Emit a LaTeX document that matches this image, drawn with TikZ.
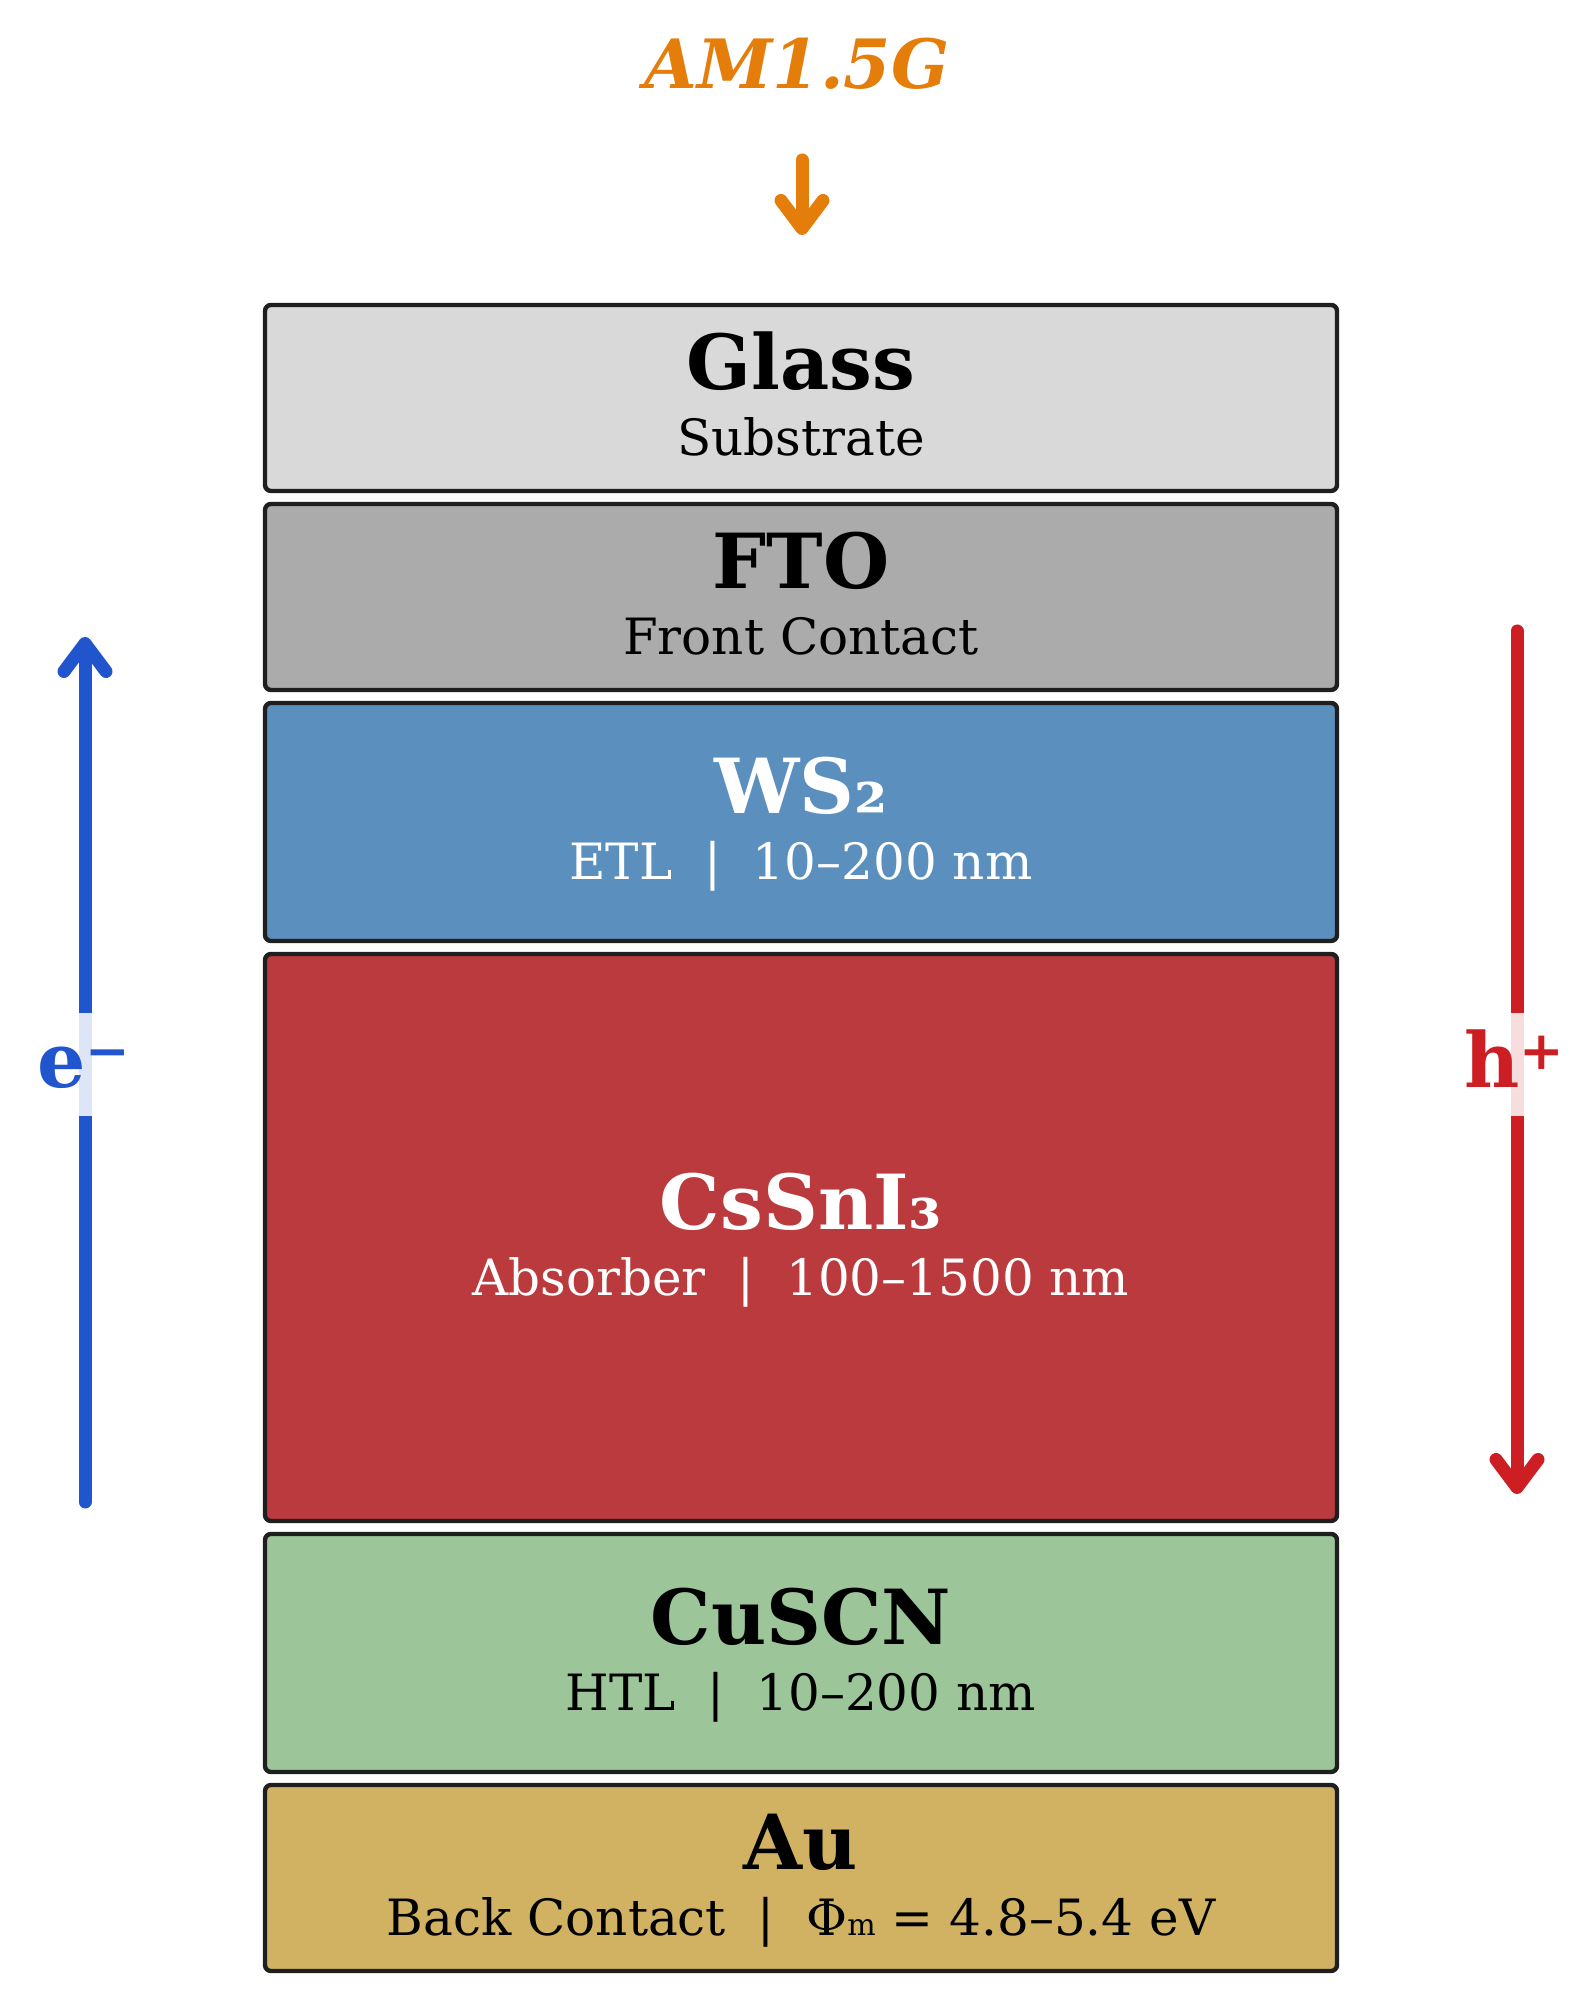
\documentclass[tikz,border=0pt]{standalone}
\usepackage{fontspec}
\setmainfont{DejaVu Serif}
\usetikzlibrary{arrows.meta, positioning}

\definecolor{glassgray}{HTML}{D9D9D9}
\definecolor{ftogray}{HTML}{ABABAB}
\definecolor{etlblue}{HTML}{5B8FBE}
\definecolor{absred}{HTML}{BA3A3D}
\definecolor{htlgreen}{HTML}{9CC59A}
\definecolor{augold}{HTML}{D0B262}
\definecolor{sunorange}{HTML}{E57D0A}
\definecolor{elecblue}{HTML}{2155CD}
\definecolor{holered}{HTML}{CC1E23}

\begin{document}
\begin{tikzpicture}[x=0.5pt, y=0.5pt,
  layer/.style={rectangle, rounded corners=3pt, minimum width=536pt, draw=black!88, line width=2.2pt},
  ttl/.style={anchor=base, font=\fontsize{38}{40}\selectfont\bfseries},
  sub/.style={anchor=base, font=\fontsize{25}{28}\selectfont},
  flow/.style={line width=6.5pt, line cap=round, -{Straight Barb[length=14pt, width=21pt, round]}},
  carrier/.style={anchor=base, font=\fontsize{38}{40}\selectfont\bfseries, fill=white, fill opacity=0.85, text opacity=1, inner xsep=2pt, inner ysep=3pt, text height=34.5pt, text depth=11pt}]

  \useasboundingbox (0,0) rectangle (1584,2016);

  % Light source
  \node (sun) [anchor=base, text=sunorange, font=\fontsize{34}{36}\selectfont\bfseries\itshape] at (797,1927) {AM1.5G};
  \coordinate (sunTail) at (802,1856);
  \coordinate (sunHead) at (802,1781);

  % Layers
  \node (glass) [layer, fill=glassgray, minimum height=93pt] at (801,1618) {};
  \node (fto) [layer, fill=ftogray, minimum height=93pt, below=4.3pt of glass] {};
  \node (etl) [layer, fill=etlblue, minimum height=119pt, below=4.3pt of fto] {};
  \node (absorber) [layer, fill=absred, minimum height=283.5pt, below=4.3pt of etl] {};
  \node (htl) [layer, fill=htlgreen, minimum height=119pt, below=4.3pt of absorber] {};
  \node (back) [layer, fill=augold, minimum height=93pt, below=4.3pt of htl] {};

  % Layer texts
  \node (glassT) [ttl] at ([yshift=4pt]glass.center) {Glass};
  \node (glassS) [sub] at ([yshift=-29pt]glass.center) {Substrate};
  \node (ftoT) [ttl] at ([yshift=4pt]fto.center) {FTO};
  \node (ftoS) [sub] at ([yshift=-29pt]fto.center) {Front Contact};
  \node (etlT) [ttl, text=white] at ([yshift=4pt]etl.center) {WS₂};
  \node (etlS) [sub, text=white] at ([yshift=-29pt]etl.center) {ETL\ \ |\ \ 10–200 nm};
  \node (absorberT) [ttl, text=white] at ([yshift=4pt]absorber.center) {CsSnI₃};
  \node (absorberS) [sub, text=white] at ([yshift=-29pt]absorber.center) {Absorber\ \ |\ \ 100–1500 nm};
  \node (htlT) [ttl] at ([yshift=4pt]htl.center) {CuSCN};
  \node (htlS) [sub] at ([yshift=-29pt]htl.center) {HTL\ \ |\ \ 10–200 nm};
  \node (backT) [ttl] at ([yshift=4pt]back.center) {Au};
  \node (backS) [sub] at ([yshift=-29pt]back.center) {Back Contact\ \ |\ \ Φ{\fontsize{15}{15}\selectfont m} = 4.8–5.4 eV};

  % Carrier paths
  \coordinate (eTail) at (85,514);
  \coordinate (eHead) at (85,1379);
  \coordinate (hTail) at (1517,1385);
  \coordinate (hHead) at (1517,522);

  % Arrows
  \draw [flow, sunorange] (sunTail) -- (sunHead);
  \draw [flow, elecblue] (eTail) -- (eHead);
  \draw [flow, holered] (hTail) -- (hHead);

  % Carrier labels
  \node (elec) [carrier, text=elecblue] at (84,928) {e\textsuperscript{−}};
  \node (hole) [carrier, text=holered] at (1515,928) {h\textsuperscript{+}};

\end{tikzpicture}
\end{document}
